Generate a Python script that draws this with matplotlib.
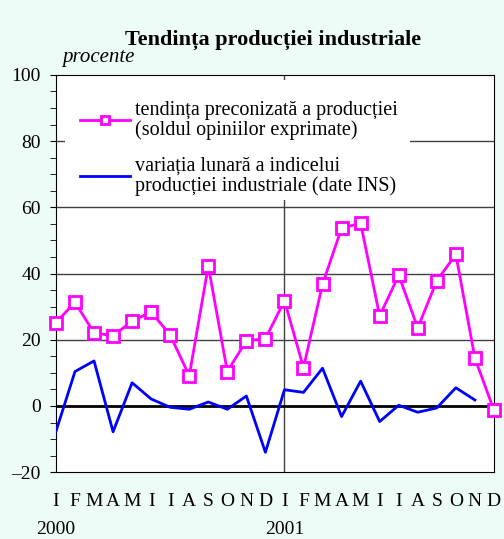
import numpy as np
import matplotlib.pyplot as plt
from matplotlib.ticker import MultipleLocator
from matplotlib.patches import Rectangle
import matplotlib.transforms as mtransforms

plt.rcParams['font.family'] = ['Liberation Serif', 'DejaVu Serif']

# month labels and year labels
months = ['I', 'F', 'M', 'A', 'M', 'I', 'I', 'A', 'S', 'O', 'N', 'D',
          'I', 'F', 'M', 'A', 'M', 'I', 'I', 'A', 'S', 'O', 'N', 'D']
years = ['2000', '2001']
year_pos = [0, 12]

# tendinta preconizata a productiei (sold opinii)
tendinta = [25.2, 31.3, 22.1, 21.2, 25.6, 28.4, 21.4, 9.1, 42.3, 10.4, 19.7, 20.3,
            31.8, 11.6, 36.8, 53.7, 55.2, 27.2, 39.5, 23.6, 37.8, 45.8, 14.5, -1.3]
# variatia lunara a indicelui productiei industriale (INS), ends in Nov 2001
variatia = [-7.7, 10.4, 13.6, -7.8, 7.0, 2.1, -0.4, -1.0, 1.2, -1.0, 3.0, -14.0,
            4.9, 4.1, 11.4, -3.2, 7.5, -4.7, 0.2, -1.9, -0.6, 5.5, 1.8]

lbl_t = 'tendința preconizată a producției\n(soldul opiniilor exprimate)'
lbl_v = 'variația lunară a indicelui\nproducției industriale (date INS)'

bg = '#EDFCF7'
fig = plt.figure(figsize=(5.04, 5.39), dpi=100, facecolor=bg)
ax = fig.add_axes([0.111, 0.124, 0.869, 0.737])

x = np.arange(len(months))
ax.axvline(12, color='#404040', lw=1, zorder=1)
for g in [20, 40, 60, 80]:
    ax.axhline(g, color='#404040', lw=1, zorder=1)
ax.axhline(0, color='black', lw=2, zorder=2)

ax.plot(x, tendinta, color='#FF00FF', lw=2, marker='s', markersize=9,
        markerfacecolor='white', markeredgecolor='#FF00FF', markeredgewidth=2,
        label=lbl_t, zorder=4, clip_on=False)
ax.plot(x[:len(variatia)], variatia, color='#0000FF', lw=2, label=lbl_v, zorder=3)

ax.set_xlim(0, 23)
ax.set_ylim(-20, 100)
ax.yaxis.set_major_locator(MultipleLocator(20))
ax.yaxis.set_minor_locator(MultipleLocator(5))
ax.tick_params(axis='y', which='both', direction='out', length=4.3, pad=6.5, labelsize=14)
ax.set_yticklabels(['\u201320' if v < 0 else str(int(v)) for v in ax.get_yticks()])
ax.set_xticks(x)
ax.set_xticklabels(months)
ax.tick_params(axis='x', length=0, labelsize=14, pad=15)

trans = mtransforms.blended_transform_factory(ax.transData, ax.transAxes)
for yr, p in zip(years, year_pos):
    ax.text(p, -0.145, yr, transform=trans, ha='center', va='center', fontsize=14)

# white block behind the legend (hides grid lines there)
ax.add_patch(Rectangle((0.0205, 0.685), 0.788, 0.302, transform=ax.transAxes,
                       facecolor='white', edgecolor='none', zorder=4.5))

leg = ax.legend(loc='upper left', bbox_to_anchor=(0.055, 0.934), fontsize=14.5,
                frameon=False, handlelength=2.5, markerscale=0.7,
                handletextpad=0.25, labelspacing=0.85, borderpad=0.0,
                borderaxespad=0.0)
leg.set_zorder(5)
for t in leg.get_texts():
    t.set_linespacing(1.0)

fig.text(0.542, 0.926, 'Tendința producției industriale', ha='center', va='center',
         fontsize=16, fontweight='bold')
fig.text(0.123, 0.893, 'procente', ha='left', va='center', fontsize=15, style='italic')

fig.savefig('out.png', dpi=100, facecolor=bg)
